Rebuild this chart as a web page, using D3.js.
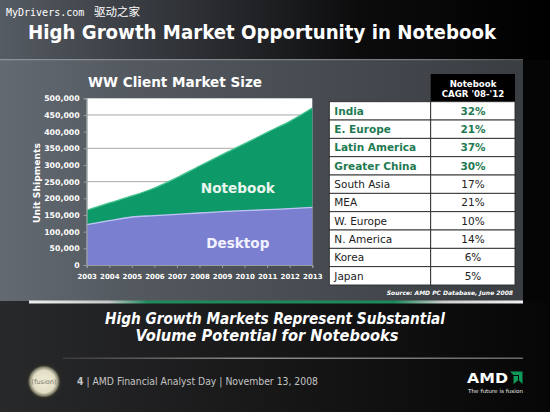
<!DOCTYPE html>
<html><head><meta charset="utf-8">
<script src="https://cdn.jsdelivr.net/npm/d3@7"></script>
<style>html,body{margin:0;padding:0;background:#111;}svg{display:block;}</style>
</head><body>
<svg id="c" width="550" height="412"></svg>
<script>
// ---- data (unit shipments) ----
const years = [2003, 2004, 2005, 2006, 2007, 2008, 2009, 2010, 2011, 2012, 2013];
const desktop = [121000, 133000, 144000, 148000, 152000, 156000, 160000, 163000, 166000, 169000, 173000];
const notebook = [43000, 53000, 63000, 83000, 110000, 141000, 171000, 201000, 232000, 262000, 298000];
const yTicks = [0, 50000, 100000, 150000, 200000, 250000, 300000, 350000, 400000, 450000, 500000];
const gridVals = [50000, 150000, 250000, 350000, 450000];
const regions = ["India", "E. Europe", "Latin America", "Greater China", "South Asia", "MEA", "W. Europe", "N. America", "Korea", "Japan"];
const cagr = ["32%", "21%", "37%", "30%", "17%", "21%", "10%", "14%", "6%", "5%"];
const highlighted = [true, true, true, true, false, false, false, false, false, false];

const svg = d3.select("#c");
const defs = svg.append("defs");
function lg(id, stops, x2 = "100%", y2 = "0%") {
  const g = defs.append("linearGradient").attr("id", id).attr("x1", "0%").attr("y1", "0%").attr("x2", x2).attr("y2", y2);
  stops.forEach(s => g.append("stop").attr("offset", s[0]).attr("stop-color", s[1]));
}
lg("gTitle", [["0%", "#565c63"], ["30%", "#33363b"], ["65%", "#0c0c0d"], ["100%", "#000"]]);
lg("gPanel", [["0%", "#646a72"], ["25%", "#53595f"], ["100%", "#3a3d42"]]);
lg("gBottom", [["0%", "#28292b"], ["50%", "#171718"], ["100%", "#060606"]]);
lg("gBar", [["0%", "#eeeeee"], ["16%", "#c9c9c9"], ["24%", "#1f8a5c"], ["74%", "#1d8a5a"], ["84%", "#cfcfcf"], ["100%", "#f2f2f2"]]);
lg("gSep", [["0%", "#3a3a3a"], ["40%", "#8a8a8a"], ["100%", "#6a6a6a"]]);
lg("gTLine", [["0%", "#8e949a"], ["80%", "#777b80"], ["100%", "#555"]]);
const rg = defs.append("radialGradient").attr("id", "gFusion");
rg.append("stop").attr("offset", "0%").attr("stop-color", "#f1eed8");
rg.append("stop").attr("offset", "70%").attr("stop-color", "#e2dec5");
rg.append("stop").attr("offset", "88%").attr("stop-color", "#8e8b78");
rg.append("stop").attr("offset", "100%").attr("stop-color", "#3a3a34");

// backgrounds
svg.append("rect").attr("width", 550).attr("height", 412).attr("fill", "#111");
svg.append("rect").attr("x", 0).attr("y", 0).attr("width", 550).attr("height", 60).attr("fill", "url(#gTitle)");
svg.append("rect").attr("x", 0).attr("y", 60).attr("width", 523).attr("height", 241).attr("fill", "url(#gPanel)");
svg.append("rect").attr("x", 523).attr("y", 60).attr("width", 27).attr("height", 241).attr("fill", "#050505");
svg.append("rect").attr("x", 0).attr("y", 301).attr("width", 550).attr("height", 111).attr("fill", "url(#gBottom)");
svg.append("rect").attr("x", 0).attr("y", 59).attr("width", 523).attr("height", 1.2).attr("fill", "url(#gTLine)");
svg.append("rect").attr("x", 29).attr("y", 300.5).attr("width", 494).attr("height", 3).attr("fill", "url(#gBar)");
svg.append("rect").attr("x", 63).attr("y", 357.5).attr("width", 460).attr("height", 1.5).attr("fill", "url(#gSep)");

// watermark
svg.append("text").attr("x", 6).attr("y", 16).attr("fill", "#fff")
  .style("font-family", "DejaVu Sans Mono").style("font-size", "10px").text("MyDrivers.com");
svg.append("text").attr("x", 94).attr("y", 16).attr("fill", "#fff")
  .style("font-family", "Noto Sans CJK SC").style("font-size", "11.5px").text("驱动之家");

// title
svg.append("text").attr("x", 28).attr("y", 38.5).attr("fill", "#fff")
  .attr("textLength", 468).attr("lengthAdjust", "spacingAndGlyphs")
  .style("font-family", "DejaVu Sans").style("font-weight", "bold").style("font-size", "19px")
  .text("High Growth Market Opportunity in Notebook");

// chart title
svg.append("text").attr("x", 88).attr("y", 86.5).attr("fill", "#fff")
  .attr("textLength", 174).attr("lengthAdjust", "spacingAndGlyphs")
  .style("font-family", "DejaVu Sans").style("font-weight", "bold").style("font-size", "14px")
  .text("WW Client Market Size");

// ---- area chart ----
const x = d3.scaleLinear().domain([2003, 2013]).range([86.7, 312.3]);
const y = d3.scaleLinear().domain([0, 500000]).range([265, 98.3]);
const rows = years.map((yr, i) => ({ year: yr, Desktop: desktop[i], Notebook: notebook[i] }));
const stack = d3.stack().keys(["Desktop", "Notebook"])(rows);

svg.append("rect").attr("x", x(2003)).attr("y", y(500000)).attr("width", x(2013) - x(2003)).attr("height", y(0) - y(500000)).attr("fill", "#fff");
svg.append("g").selectAll("line").data(gridVals).join("line")
  .attr("x1", x(2003)).attr("x2", x(2013)).attr("y1", d => y(d)).attr("y2", d => y(d))
  .attr("stroke", "#a9a9a9").attr("stroke-width", 1);

const fills = { Desktop: "#7b7fcf", Notebook: "#0e9a68" };
const edges = { Desktop: "#c0c3f6", Notebook: "#45c58e" };
const area = d3.area().x(d => x(d.data.year)).y0(d => y(d[0])).y1(d => y(d[1])).curve(d3.curveMonotoneX);
const topLine = d3.line().x(d => x(d.data.year)).y(d => y(d[1])).curve(d3.curveMonotoneX);
svg.append("g").selectAll("path").data(stack).join("path")
  .attr("d", area).attr("fill", d => fills[d.key]);
svg.append("g").selectAll("path").data(stack).join("path")
  .attr("d", topLine).attr("fill", "none").attr("stroke", d => edges[d.key]).attr("stroke-width", 1.3);

// axes
const yAxis = svg.append("g").attr("transform", `translate(${x(2003)},0)`)
  .call(d3.axisLeft(y).tickValues(yTicks).tickFormat(d3.format(",")).tickSize(3).tickPadding(4));
const xAxis = svg.append("g").attr("transform", `translate(0,${y(0)})`)
  .call(d3.axisBottom(x).tickValues(years).tickFormat(d3.format("d")).tickSize(3).tickPadding(6));
[yAxis, xAxis].forEach(g => {
  g.select(".domain").attr("stroke", "#9a9ea3");
  g.selectAll(".tick line").attr("stroke", "#9a9ea3");
  g.selectAll("text").attr("fill", "#fff").style("font-family", "DejaVu Sans").style("font-weight", "bold");
});
yAxis.selectAll("text").style("font-size", "7.8px");
xAxis.selectAll("text").style("font-size", "7px");

svg.append("text").attr("transform", "translate(40,183) rotate(-90)").attr("text-anchor", "middle")
  .attr("fill", "#fff").attr("textLength", 80).attr("lengthAdjust", "spacingAndGlyphs")
  .style("font-family", "DejaVu Sans").style("font-weight", "bold").style("font-size", "9.5px")
  .text("Unit Shipments");

svg.append("text").attr("x", x(2009.7)).attr("y", y(232000)).attr("dy", "0.36em").attr("text-anchor", "middle")
  .attr("fill", "#e9f5ee").attr("textLength", 74).attr("lengthAdjust", "spacingAndGlyphs")
  .style("font-family", "DejaVu Sans").style("font-weight", "bold").style("font-size", "14px").text("Notebook");
svg.append("text").attr("x", x(2009.7)).attr("y", y(66000)).attr("dy", "0.36em").attr("text-anchor", "middle")
  .attr("fill", "#f1f1ff").attr("textLength", 63).attr("lengthAdjust", "spacingAndGlyphs")
  .style("font-family", "DejaVu Sans").style("font-weight", "bold").style("font-size", "14px").text("Desktop");

// ---- table ----
const tX0 = 329.3, tX1 = 430.7, tX2 = 515, tTop = 101.7, rowH = 18.33;
svg.append("rect").attr("x", tX1).attr("y", 74).attr("width", tX2 - tX1).attr("height", tTop - 74).attr("fill", "#000");
svg.append("text").attr("x", 473).attr("y", 86.5).attr("text-anchor", "middle").attr("fill", "#fff")
  .style("font-family", "DejaVu Sans").style("font-weight", "bold").style("font-size", "8.6px").text("Notebook");
svg.append("text").attr("x", 473).attr("y", 97.3).attr("text-anchor", "middle").attr("fill", "#fff")
  .style("font-family", "DejaVu Sans").style("font-weight", "bold").style("font-size", "8.6px").text("CAGR '08-'12");
const tr = svg.append("g").selectAll("g").data(regions).join("g")
  .attr("transform", (d, i) => `translate(0,${tTop + i * rowH})`);
tr.append("rect").attr("x", tX0).attr("width", tX1 - tX0).attr("height", rowH).attr("fill", "#fff").attr("stroke", "#2a2a2a").attr("stroke-width", 0.9);
tr.append("rect").attr("x", tX1).attr("width", tX2 - tX1).attr("height", rowH).attr("fill", "#fff").attr("stroke", "#2a2a2a").attr("stroke-width", 0.9);
tr.append("text").attr("x", tX0 + 5).attr("y", rowH / 2).attr("dy", "0.36em")
  .attr("fill", (d, i) => highlighted[i] ? "#1f7a52" : "#222")
  .style("font-family", "DejaVu Sans").style("font-weight", (d, i) => highlighted[i] ? "bold" : "normal")
  .style("font-size", "10.5px").text(d => d);
tr.append("text").attr("x", 473).attr("y", rowH / 2).attr("dy", "0.36em").attr("text-anchor", "middle")
  .attr("fill", (d, i) => highlighted[i] ? "#1f7a52" : "#222")
  .style("font-family", "DejaVu Sans").style("font-weight", (d, i) => highlighted[i] ? "bold" : "normal")
  .style("font-size", "10.5px").text((d, i) => cagr[i]);

svg.append("text").attr("x", 513).attr("y", 295).attr("text-anchor", "end").attr("fill", "#fff")
  .style("font-family", "DejaVu Sans").style("font-style", "italic").style("font-weight", "bold").style("font-size", "6px")
  .text("Source: AMD PC Database, June 2008");

// subtitle
svg.append("text").attr("x", 275).attr("y", 324).attr("text-anchor", "middle").attr("fill", "#fff")
  .attr("textLength", 340).attr("lengthAdjust", "spacingAndGlyphs")
  .style("font-family", "DejaVu Sans").style("font-style", "italic").style("font-weight", "bold").style("font-size", "15.5px")
  .text("High Growth Markets Represent Substantial");
svg.append("text").attr("x", 267).attr("y", 341).attr("text-anchor", "middle").attr("fill", "#fff")
  .attr("textLength", 263).attr("lengthAdjust", "spacingAndGlyphs")
  .style("font-family", "DejaVu Sans").style("font-style", "italic").style("font-weight", "bold").style("font-size", "15.5px")
  .text("Volume Potential for Notebooks");

// footer
svg.append("circle").attr("cx", 44).attr("cy", 381.5).attr("r", 18).attr("fill", "#2b2b27");
svg.append("circle").attr("cx", 44).attr("cy", 381.5).attr("r", 16).attr("fill", "url(#gFusion)");
svg.append("text").attr("x", 44).attr("y", 381.5).attr("dy", "0.35em").attr("text-anchor", "middle").attr("fill", "#7a776a")
  .style("font-family", "DejaVu Sans").style("font-size", "6.5px").text("(fusion)");
const ft = svg.append("text").attr("x", 77).attr("y", 385).attr("fill", "#c4c4c4")
  .attr("textLength", 241).attr("lengthAdjust", "spacingAndGlyphs")
  .style("font-family", "DejaVu Sans").style("font-size", "10px");
ft.append("tspan").style("font-weight", "bold").text("4");
ft.append("tspan").text(" | AMD Financial Analyst Day | November 13, 2008");

svg.append("text").attr("x", 467).attr("y", 382.5).attr("fill", "#fff").attr("textLength", 41).attr("lengthAdjust", "spacingAndGlyphs")
  .style("font-family", "DejaVu Sans").style("font-weight", "bold").style("font-size", "14px").text("AMD");
const logo = svg.append("g").attr("transform", "translate(510,371.5) scale(1.25)");
logo.append("path").attr("d", "M0,0 L10,0 L10,10 L7.2,7.2 L7.2,2.8 L2.8,2.8 Z").attr("fill", "#0f9a5a");
logo.append("path").attr("d", "M2.8,3.6 L6.4,3.6 L6.4,7.2 L2.8,10.0 Z").attr("fill", "#0f9a5a");
svg.append("text").attr("x", 468).attr("y", 393).attr("fill", "#e8e8e8").attr("textLength", 55).attr("lengthAdjust", "spacingAndGlyphs")
  .style("font-family", "DejaVu Sans").style("font-size", "5.5px").text("The future is fusion");
</script>
</body></html>
